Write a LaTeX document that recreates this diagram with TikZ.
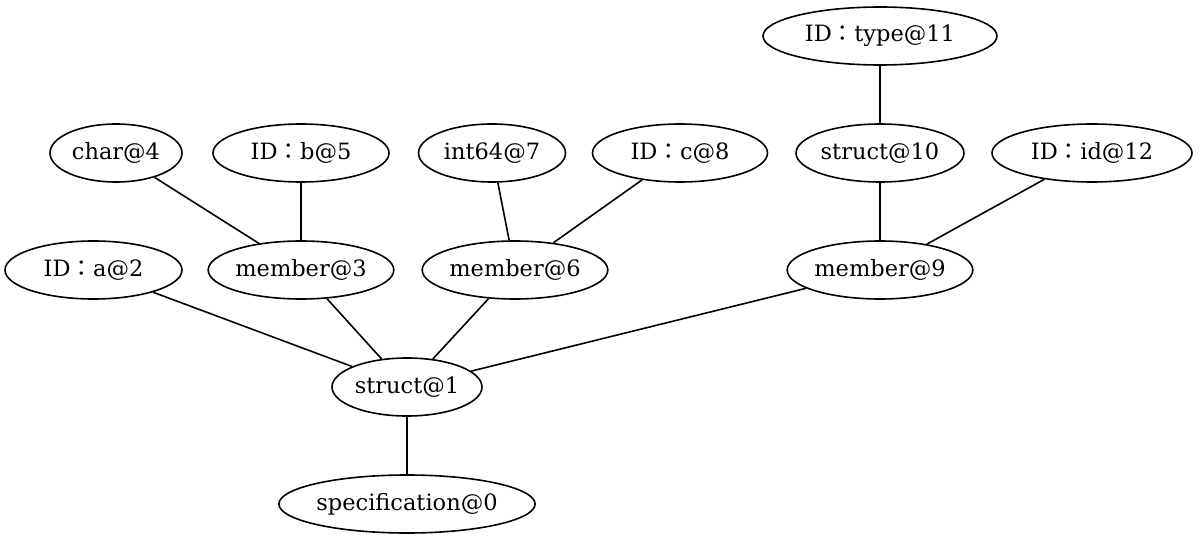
\documentclass[tikz,border=0pt]{standalone}
\usepackage{fontspec}
\setmainfont{DejaVu Serif}
\newfontfamily\cjk{Noto Sans CJK TC}
\usetikzlibrary{shapes.geometric}
\newcommand{\idc}{{\cjk ：}}
\tikzset{
  vtx/.style={ellipse, draw=black, line width=1.6pt, inner sep=0pt,
    minimum height=58pt, font=\fontsize{22.5}{27}\selectfont, text=black},
  edge/.style={draw=black, line width=1.6pt}
}
\begin{document}
\begin{tikzpicture}[x=1pt, y=-1pt]
\useasboundingbox (0,0) rectangle (1200,540);
% top rank
\node[vtx, minimum width=234pt] (n11) at (880,36) {ID\idc type@11};
% second rank
\node[vtx, minimum width=132pt] (n4) at (116,153) {char@4};
\node[vtx, minimum width=176pt] (n5) at (301,153) {ID\idc b@5};
\node[vtx, minimum width=147pt] (n7) at (492,153) {int64@7};
\node[vtx, minimum width=175pt] (n8) at (680,153) {ID\idc c@8};
\node[vtx, minimum width=168pt] (n10) at (880,153) {struct@10};
\node[vtx, minimum width=200pt] (n12) at (1092,153) {ID\idc id@12};
% third rank
\node[vtx, minimum width=177pt] (n2) at (93.5,270) {ID\idc a@2};
\node[vtx, minimum width=183pt] (n3) at (301,270) {member@3};
\node[vtx, minimum width=183pt] (n6) at (515,270) {member@6};
\node[vtx, minimum width=183pt] (n9) at (880,270) {member@9};
% lower ranks
\node[vtx, minimum width=150pt] (n1) at (407,387) {struct@1};
\node[vtx, minimum width=240pt] (n0) at (407,504) {specification@0};
% connectors
\draw[edge] (n11) -- (n10);
\draw[edge] (n4) -- (n3);
\draw[edge] (n5) -- (n3);
\draw[edge] (n7) -- (n6);
\draw[edge] (n8) -- (n6);
\draw[edge] (n10) -- (n9);
\draw[edge] (n12) -- (n9);
\draw[edge] (n2) -- (n1);
\draw[edge] (n3) -- (n1);
\draw[edge] (n6) -- (n1);
\draw[edge] (n9) -- (n1);
\draw[edge] (n1) -- (n0);
\end{tikzpicture}
\end{document}
